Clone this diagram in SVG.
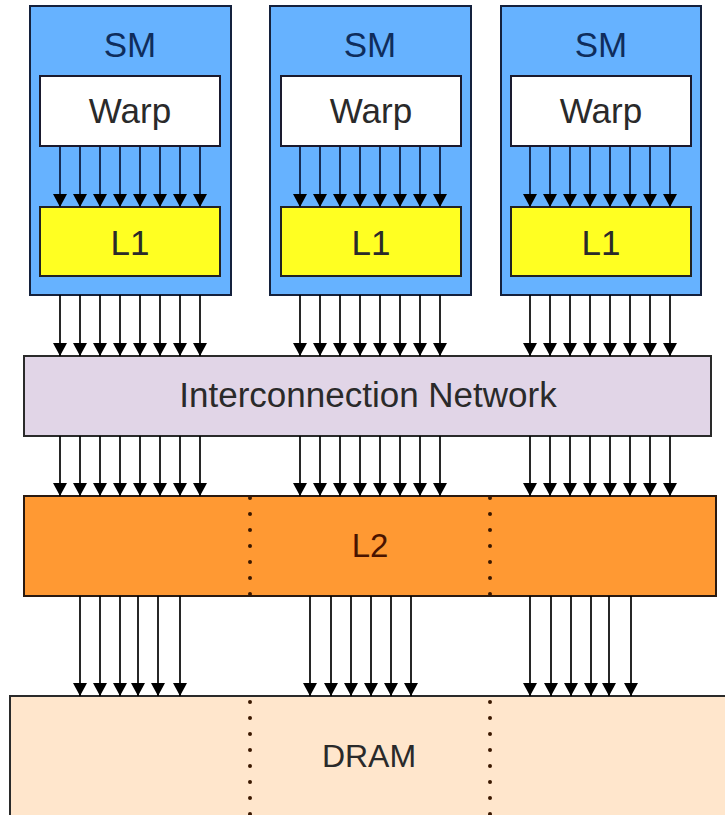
<svg xmlns="http://www.w3.org/2000/svg" width="725" height="815" viewBox="0 0 725 815">
  <style>
    text { font-family: "Liberation Sans", Arial, sans-serif; text-anchor: middle; }
    .sm { fill: #66b2ff; stroke: #14213d; stroke-width: 2; }
    .warp { fill: #ffffff; stroke: #1a1a2e; stroke-width: 2; }
    .l1 { fill: #ffff22; stroke: #222222; stroke-width: 2; }
    .net { fill: #e1d5e7; stroke: #2a2a2a; stroke-width: 2; }
    .l2 { fill: #ff9933; stroke: #2a1a10; stroke-width: 2; }
    .dram { fill: #ffe6cc; stroke: #2a2a2a; stroke-width: 2; }
    .sep { stroke: #3a1800; stroke-width: 4; stroke-linecap: round; stroke-dasharray: 0 16; fill: none; }
    .t-sm { font-size: 35px; fill: #0f2d5c; }
    .t-dark { font-size: 35px; fill: #2a2a2a; }
    .t-l2 { font-size: 33px; fill: #4a1400; }
    .t-dram { font-size: 32px; fill: #2a2a2a; }
    .bus line { stroke: #000000; stroke-width: 1.7; marker-end: url(#head); }
    .bus.inner line { stroke: #0a1638; }
  </style>
  <defs>
    <marker id="head" viewBox="0 0 13 14" refX="13" refY="7" markerWidth="13" markerHeight="14" markerUnits="userSpaceOnUse" orient="auto">
      <path d="M0,0 L13,7 L0,14 z" fill="#000000"/>
    </marker>
  </defs>

  <!-- streaming multiprocessors -->
  <g id="sm1">
    <rect class="sm" x="30" y="6" width="201" height="289"/>
    <text class="t-sm" x="130" y="57">SM</text>
    <g id="warp1">
      <rect class="warp" x="40" y="76" width="180" height="70"/>
      <text class="t-dark" x="130" y="123">Warp</text>
    </g>
    <g id="l1a">
      <rect class="l1" x="40" y="207" width="180" height="69"/>
      <text class="t-dark" x="130" y="255">L1</text>
    </g>
  </g>
  <g id="sm2">
    <rect class="sm" x="270" y="6" width="201" height="289"/>
    <text class="t-sm" x="370" y="57">SM</text>
    <g id="warp2">
      <rect class="warp" x="281" y="76" width="180" height="70"/>
      <text class="t-dark" x="371" y="123">Warp</text>
    </g>
    <g id="l1b">
      <rect class="l1" x="281" y="207" width="180" height="69"/>
      <text class="t-dark" x="371" y="255">L1</text>
    </g>
  </g>
  <g id="sm3">
    <rect class="sm" x="501" y="6" width="200" height="289"/>
    <text class="t-sm" x="601" y="57">SM</text>
    <g id="warp3">
      <rect class="warp" x="511" y="76" width="180" height="70"/>
      <text class="t-dark" x="601" y="123">Warp</text>
    </g>
    <g id="l1c">
      <rect class="l1" x="511" y="207" width="180" height="69"/>
      <text class="t-dark" x="601" y="255">L1</text>
    </g>
  </g>

  <!-- interconnect -->
  <g id="network">
    <rect class="net" x="24" y="356" width="687" height="80"/>
    <text class="t-dark" x="368" y="407">Interconnection Network</text>
  </g>

  <!-- shared L2, three slices -->
  <g id="l2">
    <rect class="l2" x="24" y="496" width="692" height="100"/>
    <line class="sep" x1="250" y1="498" x2="250" y2="596"/>
    <line class="sep" x1="490" y1="498" x2="490" y2="596"/>
    <text class="t-l2" x="370" y="557">L2</text>
  </g>

  <!-- DRAM, three channels -->
  <g id="dram">
    <rect class="dram" x="10" y="696" width="730" height="130"/>
    <line class="sep" x1="250" y1="702" x2="250" y2="815"/>
    <line class="sep" x1="490" y1="702" x2="490" y2="815"/>
    <text class="t-dram" x="369" y="767">DRAM</text>
  </g>

  <!-- connectors -->
  <g id="connectors">
    <!-- warp lanes into L1 -->
    <g class="bus inner">
      <line x1="60" y1="146" x2="60" y2="207"/><line x1="80" y1="146" x2="80" y2="207"/>
      <line x1="100" y1="146" x2="100" y2="207"/><line x1="120" y1="146" x2="120" y2="207"/>
      <line x1="140" y1="146" x2="140" y2="207"/><line x1="160" y1="146" x2="160" y2="207"/>
      <line x1="180" y1="146" x2="180" y2="207"/><line x1="200" y1="146" x2="200" y2="207"/>
      <line x1="300" y1="146" x2="300" y2="207"/><line x1="320" y1="146" x2="320" y2="207"/>
      <line x1="340" y1="146" x2="340" y2="207"/><line x1="360" y1="146" x2="360" y2="207"/>
      <line x1="380" y1="146" x2="380" y2="207"/><line x1="400" y1="146" x2="400" y2="207"/>
      <line x1="420" y1="146" x2="420" y2="207"/><line x1="440" y1="146" x2="440" y2="207"/>
      <line x1="530" y1="146" x2="530" y2="207"/><line x1="550" y1="146" x2="550" y2="207"/>
      <line x1="570" y1="146" x2="570" y2="207"/><line x1="590" y1="146" x2="590" y2="207"/>
      <line x1="610" y1="146" x2="610" y2="207"/><line x1="630" y1="146" x2="630" y2="207"/>
      <line x1="650" y1="146" x2="650" y2="207"/><line x1="670" y1="146" x2="670" y2="207"/>
    </g>
    <!-- SM to interconnect -->
    <g class="bus">
      <line x1="60" y1="295" x2="60" y2="356"/><line x1="80" y1="295" x2="80" y2="356"/>
      <line x1="100" y1="295" x2="100" y2="356"/><line x1="120" y1="295" x2="120" y2="356"/>
      <line x1="140" y1="295" x2="140" y2="356"/><line x1="160" y1="295" x2="160" y2="356"/>
      <line x1="180" y1="295" x2="180" y2="356"/><line x1="200" y1="295" x2="200" y2="356"/>
      <line x1="300" y1="295" x2="300" y2="356"/><line x1="320" y1="295" x2="320" y2="356"/>
      <line x1="340" y1="295" x2="340" y2="356"/><line x1="360" y1="295" x2="360" y2="356"/>
      <line x1="380" y1="295" x2="380" y2="356"/><line x1="400" y1="295" x2="400" y2="356"/>
      <line x1="420" y1="295" x2="420" y2="356"/><line x1="440" y1="295" x2="440" y2="356"/>
      <line x1="530" y1="295" x2="530" y2="356"/><line x1="550" y1="295" x2="550" y2="356"/>
      <line x1="570" y1="295" x2="570" y2="356"/><line x1="590" y1="295" x2="590" y2="356"/>
      <line x1="610" y1="295" x2="610" y2="356"/><line x1="630" y1="295" x2="630" y2="356"/>
      <line x1="650" y1="295" x2="650" y2="356"/><line x1="670" y1="295" x2="670" y2="356"/>
    </g>
    <!-- interconnect to L2 -->
    <g class="bus">
      <line x1="60" y1="436" x2="60" y2="496"/><line x1="80" y1="436" x2="80" y2="496"/>
      <line x1="100" y1="436" x2="100" y2="496"/><line x1="120" y1="436" x2="120" y2="496"/>
      <line x1="140" y1="436" x2="140" y2="496"/><line x1="160" y1="436" x2="160" y2="496"/>
      <line x1="180" y1="436" x2="180" y2="496"/><line x1="200" y1="436" x2="200" y2="496"/>
      <line x1="300" y1="436" x2="300" y2="496"/><line x1="320" y1="436" x2="320" y2="496"/>
      <line x1="340" y1="436" x2="340" y2="496"/><line x1="360" y1="436" x2="360" y2="496"/>
      <line x1="380" y1="436" x2="380" y2="496"/><line x1="400" y1="436" x2="400" y2="496"/>
      <line x1="420" y1="436" x2="420" y2="496"/><line x1="440" y1="436" x2="440" y2="496"/>
      <line x1="530" y1="436" x2="530" y2="496"/><line x1="550" y1="436" x2="550" y2="496"/>
      <line x1="570" y1="436" x2="570" y2="496"/><line x1="590" y1="436" x2="590" y2="496"/>
      <line x1="610" y1="436" x2="610" y2="496"/><line x1="630" y1="436" x2="630" y2="496"/>
      <line x1="650" y1="436" x2="650" y2="496"/><line x1="670" y1="436" x2="670" y2="496"/>
    </g>
    <!-- L2 to DRAM -->
    <g class="bus">
      <line x1="80" y1="596" x2="80" y2="696"/><line x1="100" y1="596" x2="100" y2="696"/>
      <line x1="120" y1="596" x2="120" y2="696"/><line x1="138" y1="596" x2="138" y2="696"/>
      <line x1="158" y1="596" x2="158" y2="696"/><line x1="180" y1="596" x2="180" y2="696"/>
      <line x1="310" y1="596" x2="310" y2="696"/><line x1="331" y1="596" x2="331" y2="696"/>
      <line x1="351" y1="596" x2="351" y2="696"/><line x1="371" y1="596" x2="371" y2="696"/>
      <line x1="391" y1="596" x2="391" y2="696"/><line x1="411" y1="596" x2="411" y2="696"/>
      <line x1="530" y1="596" x2="530" y2="696"/><line x1="551" y1="596" x2="551" y2="696"/>
      <line x1="571" y1="596" x2="571" y2="696"/><line x1="591" y1="596" x2="591" y2="696"/>
      <line x1="609" y1="596" x2="609" y2="696"/><line x1="631" y1="596" x2="631" y2="696"/>
    </g>
  </g>
</svg>
